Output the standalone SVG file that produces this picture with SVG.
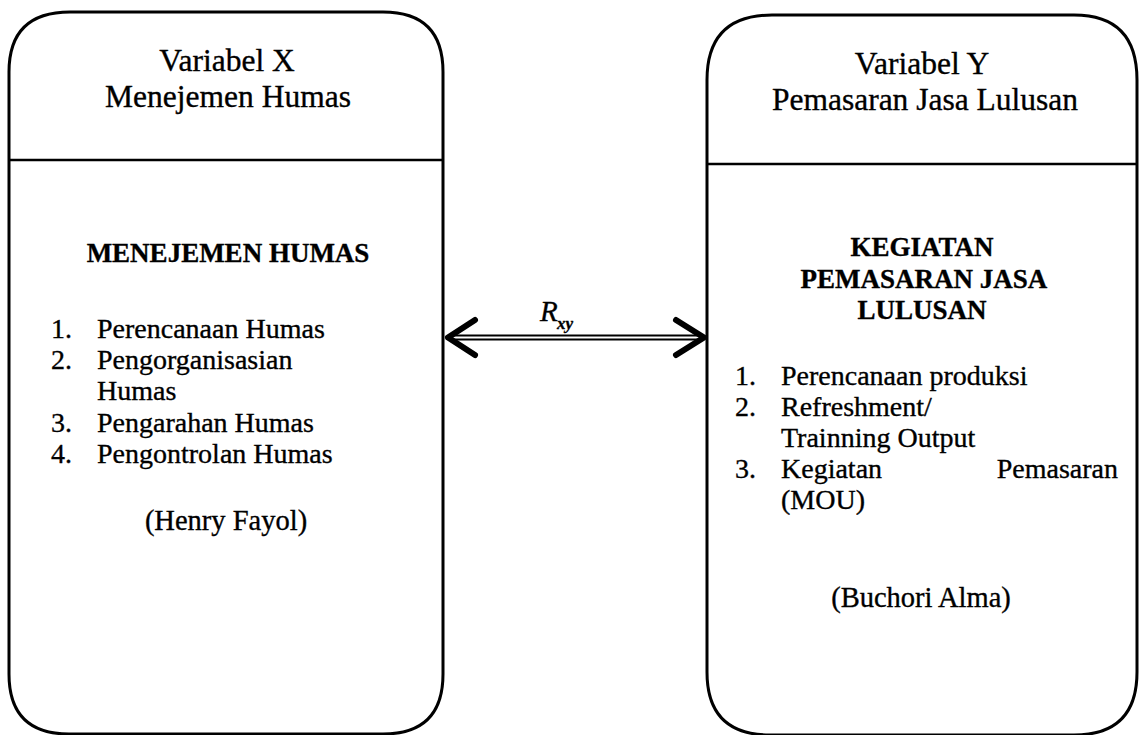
<svg xmlns="http://www.w3.org/2000/svg" width="1140" height="735" viewBox="0 0 1140 735">
<style>
.box{fill:#fff;stroke:#000;stroke-width:3}
.div{stroke:#000;stroke-width:2.6}
text{font-family:"Liberation Serif","Times New Roman",serif;fill:#000;stroke:#000;stroke-width:0.35}
.h{font-size:31.5px;text-anchor:middle}
.b{font-size:27px;font-weight:bold;text-anchor:middle}
.t{font-size:28px}
.c{font-size:28.5px;text-anchor:middle}
.arr{fill:none;stroke:#000;stroke-width:6;stroke-linecap:round;stroke-linejoin:round}
</style>
<rect width="1140" height="735" fill="#fff"/>
<g id="nodeX">
<path class="box" d="M9,72 Q9,12 70,12 L383,12 Q443,12 443,72 L443,674 Q443,734 383,734 L69,734 Q9,734 9,674 Z"/>
<line class="div" x1="9" y1="160" x2="443" y2="160"/>
<text class="h" x="227" y="71">Variabel X</text>
<text class="h" x="228" y="107">Menejemen Humas</text>
<text class="b" x="228" y="262">MENEJEMEN HUMAS</text>
<text class="t" x="51" y="338">1.</text><text class="t" x="97" y="338">Perencanaan Humas</text>
<text class="t" x="51" y="369">2.</text><text class="t" x="97" y="369">Pengorganisasian</text>
<text class="t" x="97" y="400">Humas</text>
<text class="t" x="51" y="432">3.</text><text class="t" x="97" y="432">Pengarahan Humas</text>
<text class="t" x="51" y="463">4.</text><text class="t" x="97" y="463">Pengontrolan Humas</text>
<text class="c" x="226" y="530">(Henry Fayol)</text>
</g>
<g id="nodeY">
<path class="box" d="M707,80 Q707,15 772,15 L1074,15 Q1137,15 1137,80 L1137,672 Q1137,735 1074,735 L770,735 Q707,735 707,672 Z"/>
<line class="div" x1="707" y1="164" x2="1137" y2="164"/>
<text class="h" x="922" y="74">Variabel Y</text>
<text class="h" x="925" y="110">Pemasaran Jasa Lulusan</text>
<text class="b" x="922" y="256">KEGIATAN</text>
<text class="b" x="924" y="288">PEMASARAN JASA</text>
<text class="b" x="922" y="319">LULUSAN</text>
<text class="t" x="735" y="385">1.</text><text class="t" x="781" y="385">Perencanaan produksi</text>
<text class="t" x="735" y="416">2.</text><text class="t" x="781" y="416">Refreshment/</text>
<text class="t" x="781" y="447">Trainning Output</text>
<text class="t" x="735" y="478">3.</text><text class="t" x="781" y="478">Kegiatan</text><text class="t" x="1118" y="478" text-anchor="end">Pemasaran</text>
<text class="t" x="781" y="509">(MOU)</text>
<text class="c" x="921" y="607">(Buchori Alma)</text>
</g>
<g id="connectors">
<line x1="452" y1="335.5" x2="700" y2="335.5" stroke="#000" stroke-width="2"/>
<line x1="452" y1="339.5" x2="700" y2="339.5" stroke="#000" stroke-width="2"/>
<polyline class="arr" points="475,320 448,337.5 475,355"/>
<polyline class="arr" points="676,320 704,337.5 676,355"/>
<text x="540" y="321" font-size="29" font-style="italic">R</text>
<text x="557" y="329" font-size="17" font-style="italic" font-weight="bold">xy</text>
</g>
</svg>
